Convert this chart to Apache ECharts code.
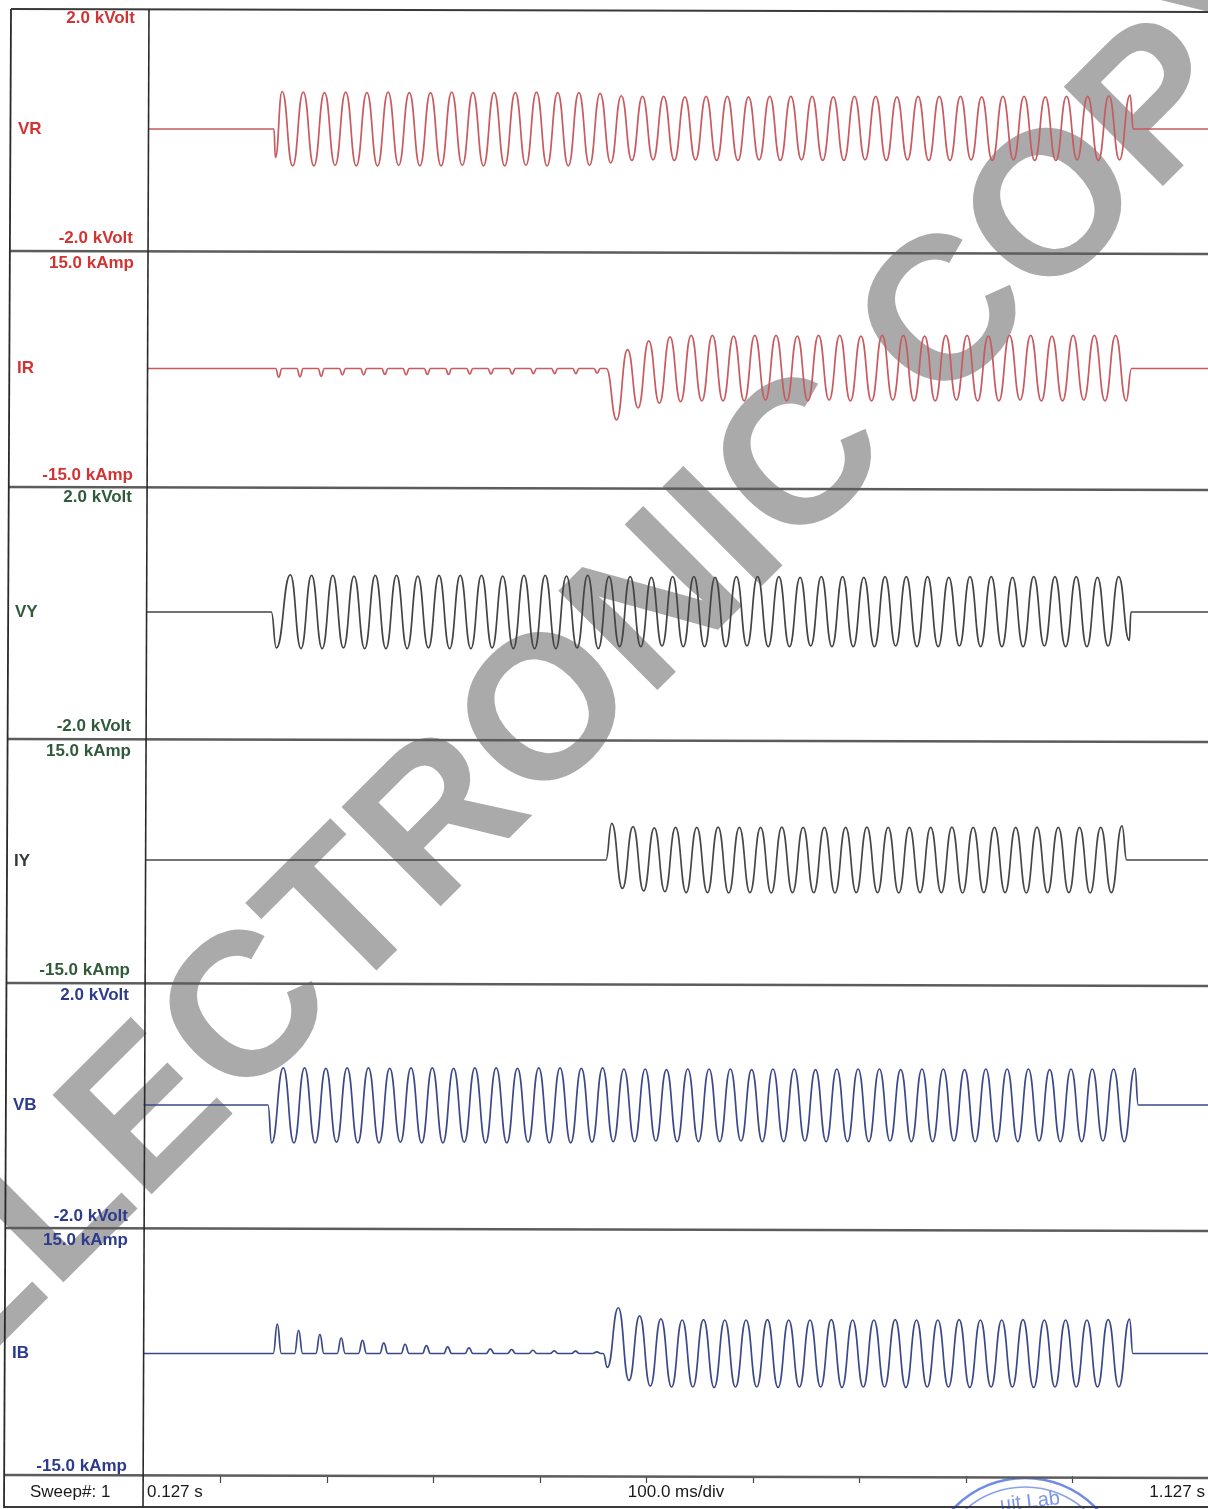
<!DOCTYPE html>
<html>
<head>
<meta charset="utf-8">
<script src="https://cdn.jsdelivr.net/npm/echarts/dist/echarts.min.js"></script>
<style>
html,body{margin:0;padding:0;background:#ffffff;}
#chart{width:1208px;height:1509px;}
</style>
</head>
<body>
<div id="chart"></div>
<script>
// ---------------- data ----------------
const TIME_MIN = 0.127;
const TIME_MAX = 1.127;
const PERIOD = 0.02;            // 50 Hz cycle, seconds
const timeTickValues = [0.2, 0.3, 0.4, 0.5, 0.6, 0.7, 0.8, 0.9, 1.0];
const timeLabelValues = [0.127, 0.627, 1.127];
const timeLabelTexts = ['0.127 s', '100.0 ms/div', '1.127 s'];
const sweepLabel = 'Sweep#: 1';

const channelNames = ['VR', 'IR', 'VY', 'IY', 'VB', 'IB'];
const channelFullScale = [2, 15, 2, 15, 2, 15];
const scaleTopLabels = ['2.0 kVolt', '15.0 kAmp', '2.0 kVolt', '15.0 kAmp', '2.0 kVolt', '15.0 kAmp'];
const scaleBottomLabels = ['-2.0 kVolt', '-15.0 kAmp', '-2.0 kVolt', '-15.0 kAmp', '-2.0 kVolt', '-15.0 kAmp'];
const watermarkText = 'ELECTRONIC COPY';

// VR (kV)
const VR_lead = [[0.127, 0], [0.2458, 0], [0.2472, -0.47]];
const VR_firstPeak = 0.2535;
const VR_peaks = [0.62, 0.61, 0.60, 0.61, 0.60, 0.61, 0.60, 0.60, 0.61, 0.60, 0.60, 0.60, 0.61, 0.60, 0.60, 0.59,
  0.55, 0.54, 0.54, 0.53, 0.54, 0.54, 0.53, 0.54, 0.54, 0.54, 0.53, 0.54, 0.54, 0.53, 0.54, 0.54, 0.54, 0.53, 0.54, 0.54, 0.53, 0.54, 0.54, 0.55, 0.56];
const VR_troughs = [-0.61, -0.61, -0.60, -0.61, -0.61, -0.60, -0.61, -0.61, -0.60, -0.61, -0.61, -0.60, -0.61, -0.61, -0.60,
  -0.56, -0.52, -0.51, -0.52, -0.51, -0.52, -0.52, -0.51, -0.52, -0.51, -0.52, -0.52, -0.51, -0.52, -0.51, -0.52, -0.52, -0.51, -0.52, -0.51, -0.52, -0.52, -0.51, -0.52, -0.51];
const VR_tail = [[1.0565, 0], [1.127, 0]];

// IR (kA)
const IR_lead = [[0.127, 0]];
const IR_firstDip = 0.2512;
const IR_dips = [-1.1, -1.05, -1.0, -0.8, -0.8, -0.75, -0.8, -0.75, -0.75, -0.7, -0.7, -0.7, -0.65, -0.65, -0.65, -0.6];
const IR_onset = [[0.5599, 0], [0.5696, -6.5]];
const IR_firstPeak = 0.5799;
const IR_peaks = [2.4, 3.5, 4.0, 4.2, 4.2, 4.1, 4.2, 4.2, 4.1, 4.2, 4.2, 4.1, 4.2, 4.2, 4.1, 4.2, 4.2, 4.1, 4.2, 4.2, 4.1, 4.2, 4.2, 4.2];
const IR_troughs = [-5.0, -4.4, -4.2, -4.1, -4.1, -4.1, -4.0, -4.1, -4.1, -4.0, -4.1, -4.1, -4.0, -4.1, -4.1, -4.0, -4.1, -4.1, -4.0, -4.1, -4.1, -4.0, -4.1, -4.1];
const IR_tail = [[1.0550, 0], [1.127, 0]];

// VY (kV)
const VY_lead = [[0.127, 0], [0.2450, 0], [0.2497, -0.57]];
const VY_firstPeak = 0.2629;
const VY_peaks = [0.59, 0.58, 0.58, 0.57, 0.58, 0.58, 0.57, 0.58, 0.58, 0.58, 0.57, 0.58, 0.58, 0.57, 0.58,
  0.56, 0.56, 0.55, 0.56, 0.56, 0.55, 0.56, 0.56, 0.56, 0.55, 0.56, 0.56, 0.55, 0.56, 0.56, 0.56, 0.55, 0.56, 0.56, 0.55, 0.56, 0.56, 0.56, 0.55, 0.56];
const VY_troughs = [-0.58, -0.58, -0.57, -0.58, -0.58, -0.58, -0.57, -0.58, -0.58, -0.57, -0.58, -0.58, -0.58, -0.57, -0.58,
  -0.55, -0.55, -0.54, -0.55, -0.55, -0.55, -0.54, -0.55, -0.55, -0.54, -0.55, -0.55, -0.55, -0.54, -0.55, -0.55, -0.54, -0.55, -0.55, -0.55, -0.54, -0.55, -0.55, -0.54, -0.45];
const VY_tail = [[1.0545, 0], [1.127, 0]];

// IY (kA)
const IY_lead = [[0.127, 0], [0.5605, 0]];
const IY_firstPeak = 0.5661;
const IY_peaks = [4.5, 4.1, 3.95, 4.0, 4.0, 4.05, 4.0, 4.0, 4.05, 4.0, 4.0, 4.0, 4.05, 4.0, 4.0, 4.0, 4.05, 4.0, 4.0, 4.0, 4.05, 4.0, 4.0, 4.0, 4.2];
const IY_troughs = [-3.5, -3.8, -3.9, -4.0, -4.0, -4.05, -4.0, -4.05, -4.0, -4.0, -4.05, -4.0, -4.0, -4.05, -4.0, -4.0, -4.05, -4.0, -4.0, -4.05, -4.0, -4.0, -4.05, -4.0];
const IY_tail = [[1.0505, 0], [1.127, 0]];

// VB (kV)
const VB_lead = [[0.127, 0], [0.2439, 0], [0.2474, -0.62]];
const VB_firstPeak = 0.2583;
const VB_peaks = [0.61, 0.61, 0.60, 0.61, 0.61, 0.60, 0.61, 0.61, 0.60, 0.61, 0.61, 0.60, 0.61, 0.61, 0.60, 0.61,
  0.59, 0.59, 0.58, 0.59, 0.59, 0.59, 0.58, 0.59, 0.59, 0.58, 0.59, 0.59, 0.59, 0.58, 0.59, 0.59, 0.58, 0.59, 0.59, 0.59, 0.58, 0.59, 0.59, 0.59, 0.60];
const VB_troughs = [-0.62, -0.62, -0.61, -0.62, -0.62, -0.61, -0.62, -0.62, -0.61, -0.62, -0.62, -0.61, -0.62, -0.62, -0.61,
  -0.60, -0.60, -0.59, -0.60, -0.60, -0.60, -0.59, -0.60, -0.60, -0.59, -0.60, -0.60, -0.60, -0.59, -0.60, -0.60, -0.59, -0.60, -0.60, -0.60, -0.59, -0.60, -0.60, -0.59, -0.60];
const VB_tail = [[1.0615, 0], [1.127, 0]];

// IB (kA)
const IB_lead = [[0.127, 0]];
const IB_firstPulse = 0.2531;
const IB_pulses = [3.6, 2.85, 2.35, 1.9, 1.6, 1.3, 1.13, 0.97, 0.81, 0.69, 0.57, 0.49, 0.4, 0.32, 0.28, 0.2];
const IB_onset = [[0.5592, 0], [0.5630, -1.7]];
const IB_firstPeak = 0.5733;
const IB_peaks = [5.6, 4.6, 4.25, 4.1, 4.15, 4.1, 4.1, 4.15, 4.1, 4.1, 4.15, 4.1, 4.1, 4.15, 4.1, 4.1, 4.15, 4.1, 4.1, 4.15, 4.1, 4.1, 4.1, 4.15, 4.2];
const IB_troughs = [-3.3, -4.0, -4.1, -4.1, -4.15, -4.1, -4.1, -4.15, -4.1, -4.1, -4.15, -4.1, -4.1, -4.15, -4.1, -4.1, -4.15, -4.1, -4.1, -4.15, -4.1, -4.1, -4.1, -4.1];
const IB_tail = [[1.0565, 0], [1.127, 0]];

// ---------------- assembling point lists ----------------
function oscillation(firstPeakTime, peaks, troughs) {
  const pts = [];
  const n = Math.max(peaks.length, troughs.length);
  for (let k = 0; k < n; k++) {
    if (k < peaks.length) pts.push([firstPeakTime + k * PERIOD, peaks[k]]);
    if (k < troughs.length) pts.push([firstPeakTime + (k + 0.5) * PERIOD, troughs[k]]);
  }
  return pts;
}
function pulseTrain(firstTime, heights, halfWidth) {
  const pts = [];
  heights.forEach((h, k) => {
    const t = firstTime + k * PERIOD;
    pts.push([t - halfWidth, 0], [t, h], [t + halfWidth, 0]);
  });
  return pts;
}

const channelData = [
  [...VR_lead, ...oscillation(VR_firstPeak, VR_peaks, VR_troughs), ...VR_tail],
  [...IR_lead, ...pulseTrain(IR_firstDip, IR_dips, 0.003), ...IR_onset, ...oscillation(IR_firstPeak, IR_peaks, IR_troughs), ...IR_tail],
  [...VY_lead, ...oscillation(VY_firstPeak, VY_peaks, VY_troughs), ...VY_tail],
  [...IY_lead, ...oscillation(IY_firstPeak, IY_peaks, IY_troughs), ...IY_tail],
  [...VB_lead, ...oscillation(VB_firstPeak, VB_peaks, VB_troughs), ...VB_tail],
  [...IB_lead, ...pulseTrain(IB_firstPulse, IB_pulses, 0.0038), ...IB_onset, ...oscillation(IB_firstPeak, IB_peaks, IB_troughs), ...IB_tail]
];

// ---------------- layout & style ----------------
const FONT = '"Liberation Sans", Arial, sans-serif';
const panels = [
  { left: 148, top: 8, height: 242 },
  { left: 147, top: 250, height: 237 },
  { left: 146, top: 486, height: 252 },
  { left: 145, top: 738, height: 244 },
  { left: 143.5, top: 983, height: 244 },
  { left: 143, top: 1231, height: 245 }
];
const PLOT_WIDTH = 1065;
const waveColors = ['#c85a60', '#c85a60', '#444444', '#474747', '#3c4989', '#3c4989'];
const labelColors = ['#d23434', '#d23434', '#2f5b3b', '#2f5b3b', '#2c3b8c', '#2c3b8c'];
const nameColors = ['#d23434', '#d23434', '#2f5b3b', '#333a35', '#2c3b8c', '#2c3b8c'];
const topLabelPos = [[135, 18], [134, 263], [132, 497], [131, 751], [129, 995], [128, 1240]];
const bottomLabelPos = [[133, 238], [133, 475], [131, 726], [130, 970], [128, 1216], [127, 1466]];
const namePos = [[18, 129], [17, 368], [15, 612], [14, 861], [13, 1105], [12, 1353]];
const dividerY = [251, 487, 739, 983, 1228, 1475];

const grids = panels.map(p => ({ left: p.left, top: p.top, width: PLOT_WIDTH, height: p.height, show: false, containLabel: false }));
const xAxes = panels.map((p, i) => {
  const last = i === panels.length - 1;
  return {
    type: 'value', gridIndex: i, min: TIME_MIN, max: TIME_MAX,
    show: last, position: 'bottom',
    axisLine: { show: false, onZero: false },
    splitLine: { show: false },
    axisTick: last ? { show: true, customValues: timeTickValues, length: 7, inside: false, lineStyle: { color: '#444', width: 1.2 } } : { show: false },
    axisLabel: last ? {
      show: true, customValues: timeLabelValues, margin: 8,
      fontFamily: FONT, fontSize: 17, color: '#1a1a1a',
      alignMinLabel: 'left', alignMaxLabel: 'right', showMinLabel: true, showMaxLabel: true,
      padding: [0, 3, 0, 4],
      formatter: v => {
        let best = 0;
        timeLabelValues.forEach((tv, j) => { if (Math.abs(tv - v) < Math.abs(timeLabelValues[best] - v)) best = j; });
        return timeLabelTexts[best];
      }
    } : { show: false }
  };
});
const yAxes = panels.map((p, i) => ({
  type: 'value', gridIndex: i, min: -channelFullScale[i], max: channelFullScale[i], show: false
}));
const series = channelData.map((d, i) => ({
  name: channelNames[i], type: 'line', xAxisIndex: i, yAxisIndex: i,
  data: d, showSymbol: false, symbol: 'none', smooth: 0.5, smoothMonotone: 'x',
  lineStyle: { color: waveColors[i], width: 1.7 }, clip: true, silent: true, z: 5
}));

// graphic elements
const gfx = [];
gfx.push({
  type: 'text', x: 612, y: 656, rotation: 0.784, z: -10, silent: true,
  style: { text: watermarkText, fill: '#aaaaaa', font: 'bold 204px ' + FONT,
    align: 'center', verticalAlign: 'middle', textAlign: 'center', textVerticalAlign: 'middle' }
});
function line(x1, y1, x2, y2, color, width) {
  gfx.push({ type: 'line', z: 50, silent: true, shape: { x1, y1, x2, y2 }, style: { stroke: color, lineWidth: width } });
}
function leftEdgeAt(y) { return 11 - 7 * (y - 9) / 1498; }
line(11, 9, 1208, 12, '#3a3a3a', 2);
dividerY.forEach(y => line(leftEdgeAt(y), y, 1208, y + 3, '#5c5c5c', 2.6));
line(4, 1507, 1208, 1507, '#3a3a3a', 2);
line(11, 9, 4, 1508, '#2a2a2a', 1.8);
line(149, 9, 143, 1507, '#2a2a2a', 1.6);

channelNames.forEach((nm, i) => {
  const font = 'bold 17px ' + FONT;
  gfx.push({ type: 'text', x: topLabelPos[i][0], y: topLabelPos[i][1], z: 60,
    style: { text: scaleTopLabels[i], fill: labelColors[i], font, align: 'right', verticalAlign: 'middle', textAlign: 'right', textVerticalAlign: 'middle' } });
  gfx.push({ type: 'text', x: bottomLabelPos[i][0], y: bottomLabelPos[i][1], z: 60,
    style: { text: scaleBottomLabels[i], fill: labelColors[i], font, align: 'right', verticalAlign: 'middle', textAlign: 'right', textVerticalAlign: 'middle' } });
  gfx.push({ type: 'text', x: namePos[i][0], y: namePos[i][1], z: 60,
    style: { text: nm, fill: nameColors[i], font, align: 'left', verticalAlign: 'middle', textAlign: 'left', textVerticalAlign: 'middle' } });
});
gfx.push({ type: 'text', x: 30, y: 1492, z: 60,
  style: { text: sweepLabel, fill: '#1a1a1a', font: '17px ' + FONT, align: 'left', verticalAlign: 'middle', textAlign: 'left', textVerticalAlign: 'middle' } });

// stamp (partially visible at bottom edge)
gfx.push({ type: 'circle', z: 40, silent: true, shape: { cx: 1025, cy: 1577, r: 99 }, style: { fill: 'none', stroke: '#6f8be6', lineWidth: 2.5 } });
gfx.push({ type: 'circle', z: 40, silent: true, shape: { cx: 1025, cy: 1577, r: 90 }, style: { fill: 'none', stroke: '#8aa0ea', lineWidth: 1.5 } });
gfx.push({ type: 'text', x: 1030, y: 1502, rotation: 0.12, z: 40,
  style: { text: 'uit Lab', fill: '#7d95e8', font: '20px ' + FONT, align: 'center', verticalAlign: 'middle', textAlign: 'center', textVerticalAlign: 'middle' } });

const chart = echarts.init(document.getElementById('chart'), null, { renderer: 'canvas' });
chart.setOption({
  animation: false,
  backgroundColor: '#ffffff',
  grid: grids,
  xAxis: xAxes,
  yAxis: yAxes,
  series: series,
  graphic: { elements: gfx }
});
</script>
</body>
</html>
